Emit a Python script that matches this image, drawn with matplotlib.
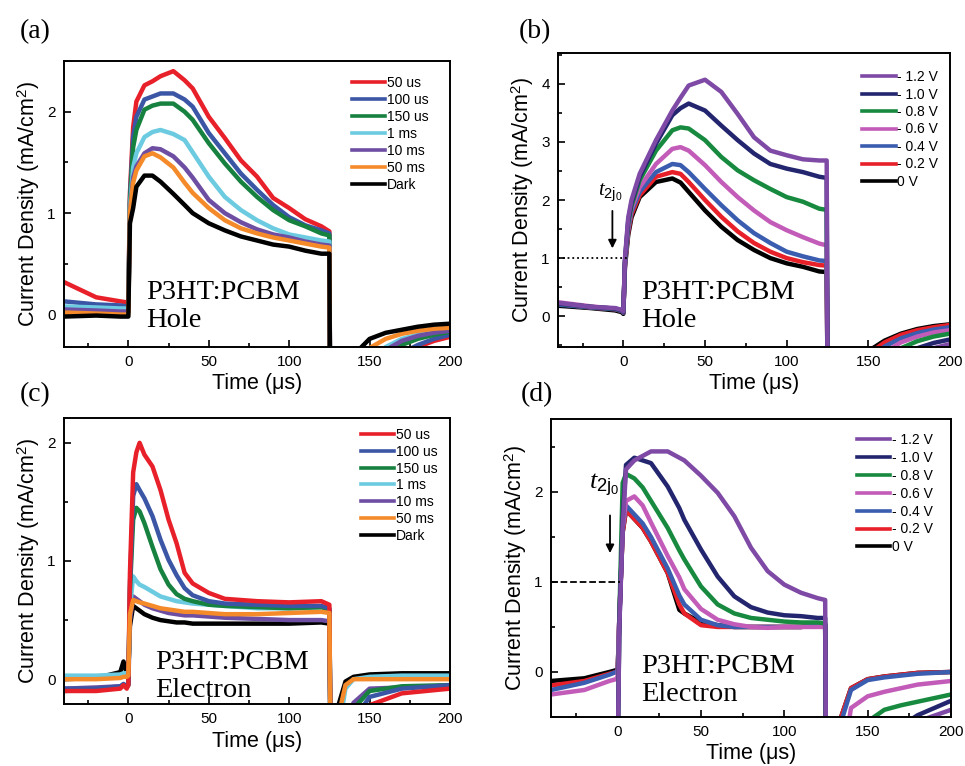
"""Transient photocurrent traces of P3HT:PCBM devices (hole / electron), four panels."""

import matplotlib

matplotlib.use("Agg")

import matplotlib.pyplot as plt
from matplotlib.ticker import MultipleLocator

plt.rcParams["font.family"] = ["Liberation Sans", "DejaVu Sans"]
plt.rcParams["mathtext.fontset"] = "custom"
plt.rcParams["mathtext.rm"] = "Liberation Sans"
plt.rcParams["mathtext.it"] = "Liberation Serif:italic"

# ---- panel (a): hole, delay time series ----
DELAY_LABELS = ["50 us", "100 us", "150 us", "1 ms", "10 ms", "50 ms", "Dark"]
DELAY_COLORS = ["#e8202a", "#3a56a5", "#17813f", "#6ccbe0", "#6d4ea2", "#f58a2a", "#000000"]

t_a = [-40, -20, -5, -1, 0, 1, 3, 5, 10, 15, 20, 28, 35, 40, 50, 60, 70, 80, 90, 100,
       110, 120, 125, 125.5, 140, 150, 160, 170, 180, 190, 200]
a_50us = [0.32, 0.17, 0.13, 0.12, 0.12, 1.2, 1.85, 2.1, 2.26, 2.3, 2.35, 2.4, 2.31, 2.23, 1.95, 1.74,
          1.52, 1.36, 1.15, 1.05, 0.94, 0.87, 0.82, -1, -0.9, -0.7, -0.55, -0.42, -0.32, -0.26, -0.22]
a_100us = [0.13, 0.1, 0.09, 0.08, 0.08, 1.15, 1.75, 1.95, 2.12, 2.15, 2.18, 2.18, 2.12, 2.05, 1.79, 1.59,
           1.39, 1.23, 1.08, 0.96, 0.88, 0.83, 0.8, -1, -0.85, -0.65, -0.5, -0.38, -0.3, -0.24, -0.2]
a_150us = [0.07, 0.06, 0.05, 0.05, 0.04, 1.1, 1.65, 1.82, 2.02, 2.06, 2.08, 2.08, 2.0, 1.92, 1.69, 1.49,
           1.31, 1.16, 1.03, 0.93, 0.87, 0.8, 0.78, -1, -0.75, -0.55, -0.4, -0.3, -0.24, -0.2, -0.17]
a_1ms = [0.08, 0.07, 0.06, 0.06, 0.05, 1.05, 1.45, 1.59, 1.75, 1.8, 1.82, 1.78, 1.72, 1.6, 1.36, 1.16,
         1.03, 0.93, 0.85, 0.79, 0.76, 0.73, 0.72, -1, -0.7, -0.45, -0.32, -0.24, -0.2, -0.17, -0.15]
a_10ms = [0.05, 0.04, 0.03, 0.03, 0.02, 1.0, 1.35, 1.46, 1.59, 1.64, 1.63, 1.56, 1.45, 1.35, 1.13, 1.0,
          0.91, 0.84, 0.79, 0.76, 0.72, 0.69, 0.68, -1, -0.75, -0.5, -0.35, -0.26, -0.21, -0.18, -0.16]
a_50ms = [0.02, 0.01, 0.0, 0.0, 0.0, 1.0, 1.3, 1.42, 1.56, 1.59, 1.55, 1.45, 1.3, 1.2, 1.05, 0.93,
          0.85, 0.8, 0.76, 0.73, 0.7, 0.67, 0.66, -1, -0.55, -0.33, -0.24, -0.19, -0.16, -0.14, -0.13]
a_dark = [-0.02, -0.01, -0.02, -0.02, -0.02, 0.9, 1.05, 1.26, 1.37, 1.37, 1.31, 1.19, 1.08, 1.0, 0.9, 0.83,
          0.77, 0.73, 0.69, 0.67, 0.63, 0.6, 0.6, -1, -0.4, -0.24, -0.18, -0.15, -0.12, -0.1, -0.09]

# ---- panel (b): hole, bias series ----
BIAS_LABELS = ["- 1.2 V", "- 1.0 V", "- 0.8 V", "- 0.6 V", "- 0.4 V", "- 0.2 V", "0 V"]
BIAS_COLORS = ["#7f4aa6", "#23266f", "#178a3f", "#c25cb8", "#3a5db0", "#e8202a", "#000000"]

t_b = [-40, -20, -5, -1, 0, 1, 3, 5, 10, 20, 30, 35, 40, 50, 60, 70, 80, 90, 100, 110,
       120, 124.5, 125, 150, 160, 170, 180, 190, 200]
b_12 = [0.23, 0.16, 0.14, 0.11, 0.08, 1.0, 1.7, 2.0, 2.45, 3.03, 3.54, 3.76, 3.97, 4.07, 3.86,
        3.48, 3.08, 2.85, 2.77, 2.7, 2.68, 2.68, -1, -1.2, -1.0, -0.8, -0.65, -0.55, -0.48]
b_10 = [0.22, 0.16, 0.13, 0.1, 0.07, 0.95, 1.65, 1.95, 2.4, 2.97, 3.46, 3.58, 3.66, 3.54, 3.28,
        3.03, 2.8, 2.62, 2.54, 2.48, 2.4, 2.38, -1, -1.1, -0.85, -0.68, -0.55, -0.46, -0.4]
b_08 = [0.22, 0.16, 0.13, 0.1, 0.07, 0.95, 1.6, 1.9, 2.34, 2.85, 3.2, 3.25, 3.23, 3.03, 2.74,
        2.51, 2.34, 2.19, 2.05, 1.97, 1.85, 1.83, -1, -0.95, -0.72, -0.55, -0.43, -0.35, -0.3]
b_06 = [0.24, 0.17, 0.13, 0.1, 0.07, 0.9, 1.55, 1.85, 2.22, 2.62, 2.88, 2.91, 2.85, 2.6, 2.31,
        2.05, 1.82, 1.62, 1.48, 1.36, 1.25, 1.22, -1, -0.85, -0.62, -0.45, -0.35, -0.28, -0.24]
b_04 = [0.2, 0.15, 0.12, 0.09, 0.06, 0.9, 1.5, 1.8, 2.14, 2.48, 2.62, 2.6, 2.48, 2.19, 1.91,
        1.65, 1.43, 1.26, 1.11, 1.03, 0.96, 0.95, -1, -0.75, -0.52, -0.38, -0.29, -0.23, -0.19]
b_02 = [0.21, 0.15, 0.12, 0.09, 0.06, 0.9, 1.45, 1.75, 2.08, 2.4, 2.48, 2.45, 2.31, 2.0, 1.71,
        1.46, 1.26, 1.11, 1.0, 0.93, 0.88, 0.87, -1, -0.65, -0.45, -0.32, -0.24, -0.19, -0.15]
b_00 = [0.18, 0.14, 0.1, 0.07, 0.04, 0.85, 1.4, 1.7, 2.05, 2.31, 2.37, 2.3, 2.14, 1.82, 1.54,
        1.31, 1.14, 1.0, 0.91, 0.85, 0.77, 0.76, -1, -0.6, -0.42, -0.3, -0.22, -0.17, -0.14]

# ---- panel (c): electron, delay time series ----
t_c = [-40, -20, -5, -3, -1, 0, 1, 3, 5, 7, 10, 15, 20, 25, 30, 35, 40, 50, 60, 80,
       100, 120, 125, 126, 130, 135, 140, 150, 170, 200]
c_50us = [-0.1, -0.1, -0.08, -0.05, -0.08, -0.05, 0.9, 1.75, 1.92, 2.0, 1.9, 1.8, 1.6, 1.35, 1.15,
          0.9, 0.81, 0.73, 0.68, 0.66, 0.65, 0.66, 0.63, -1, -1, -0.8, -0.5, -0.22, -0.12, -0.08]
c_100us = [-0.08, -0.08, -0.06, -0.04, -0.06, -0.04, 0.8, 1.55, 1.65, 1.6, 1.53, 1.38, 1.18, 1.01, 0.88,
           0.77, 0.71, 0.66, 0.64, 0.63, 0.62, 0.62, 0.6, -1, -1, -0.6, -0.35, -0.15, -0.08, -0.05]
c_150us = [-0.1, -0.09, -0.07, -0.05, -0.07, -0.05, 0.75, 1.35, 1.45, 1.42, 1.32, 1.12, 0.93, 0.8, 0.72,
           0.68, 0.66, 0.63, 0.62, 0.61, 0.6, 0.61, 0.59, -1, -1, -0.5, -0.25, -0.1, -0.06, -0.05]
c_1ms = [0.03, 0.03, 0.04, 0.05, 0.05, 0.06, 0.6, 0.87, 0.83, 0.8, 0.78, 0.74, 0.7, 0.68, 0.66,
         0.65, 0.64, 0.63, 0.62, 0.6, 0.6, 0.6, 0.58, -1, -0.5, -0.08, 0.0, 0.02, 0.03, 0.03]
c_10ms = [-0.08, -0.07, -0.06, -0.05, -0.06, -0.05, 0.5, 0.7, 0.68, 0.66, 0.63, 0.6, 0.58, 0.56, 0.55,
          0.54, 0.54, 0.53, 0.52, 0.51, 0.5, 0.5, 0.49, -1, -1, -0.4, -0.2, -0.08, -0.07, -0.06]
c_50ms = [0.0, 0.0, 0.01, 0.02, 0.02, 0.03, 0.55, 0.67, 0.66, 0.65, 0.64, 0.62, 0.6, 0.59, 0.58,
          0.57, 0.57, 0.56, 0.55, 0.55, 0.56, 0.57, 0.56, -1, -0.35, -0.05, 0.0, 0.0, 0.0, 0.0]
c_dark = [0.0, 0.01, 0.06, 0.15, 0.05, 0.05, 0.45, 0.62, 0.6, 0.58, 0.55, 0.52, 0.5, 0.49, 0.48,
          0.48, 0.47, 0.47, 0.47, 0.47, 0.47, 0.48, 0.47, -1, -0.25, -0.02, 0.02, 0.04, 0.05, 0.05]

# ---- panel (d): electron, bias series ----
t_d = [-40, -20, -5, -1, 0, 1, 3, 5, 10, 15, 20, 30, 37, 40, 50, 60, 70, 80, 90, 100,
       110, 120, 124.5, 125, 135, 140, 150, 160, 170, 180, 200]
d_12 = [-1, -1, -1, -1, -1, 0.5, 1.6, 2.25, 2.35, 2.4, 2.45, 2.45, 2.38, 2.35, 2.18, 1.99,
        1.73, 1.38, 1.12, 0.97, 0.88, 0.82, 0.8, -1, -1, -1, -1, -0.9, -0.7, -0.55, -0.42]
d_10 = [-1, -1, -1, -1, -1, 0.5, 1.7, 2.3, 2.38, 2.35, 2.32, 2.06, 1.82, 1.69, 1.36, 1.06,
        0.84, 0.72, 0.66, 0.63, 0.62, 0.6, 0.6, -1, -1, -1, -1, -0.8, -0.6, -0.48, -0.32]
d_08 = [-1, -1, -1, -1, -1, 0.6, 2.1, 2.2, 2.15, 2.05, 1.9, 1.6, 1.35, 1.25, 0.95, 0.75,
        0.65, 0.6, 0.58, 0.56, 0.55, 0.55, 0.54, -1, -1, -1, -0.55, -0.42, -0.37, -0.33, -0.25]
d_06 = [-0.25, -0.2, -0.1, -0.08, -0.05, 0.6, 1.6, 1.9, 1.95, 1.85, 1.66, 1.29, 1.05, 0.92, 0.7, 0.58,
        0.53, 0.5, 0.49, 0.5, 0.5, 0.5, 0.5, -1, -1, -0.4, -0.27, -0.22, -0.18, -0.14, -0.1]
d_04 = [-0.2, -0.12, -0.03, 0.0, 0.0, 0.6, 1.6, 1.85, 1.75, 1.65, 1.5, 1.15, 0.85, 0.75, 0.58, 0.52,
        0.5, 0.5, 0.5, 0.5, 0.5, 0.52, 0.52, -1, -0.5, -0.2, -0.09, -0.06, -0.04, -0.02, 0.0]
d_02 = [-0.15, -0.1, -0.02, 0.0, 0.0, 0.6, 1.55, 1.8, 1.7, 1.6, 1.45, 1.1, 0.75, 0.65, 0.52, 0.5,
        0.5, 0.5, 0.5, 0.5, 0.5, 0.52, 0.52, -1, -0.45, -0.18, -0.08, -0.05, -0.03, -0.01, 0.0]
d_00 = [-0.1, -0.07, 0.0, 0.02, 0.0, 0.6, 1.55, 1.8, 1.7, 1.6, 1.45, 1.1, 0.69, 0.65, 0.55, 0.52,
        0.5, 0.5, 0.5, 0.5, 0.5, 0.52, 0.52, -1, -0.45, -0.18, -0.08, -0.05, -0.03, -0.01, 0.0]

FIG_W, FIG_H = 965, 766


def make_axes(fig, left, top, right, bottom):
    return fig.add_axes([left / FIG_W, 1 - bottom / FIG_H, (right - left) / FIG_W, (bottom - top) / FIG_H])


def draw_panel(ax, t, series, labels, colors, order, ylim, yticks, sample, sample_xy,
               legend_xy, spacing):
    lines = {}
    for i in order:
        (ln,) = ax.plot(t, series[i], color=colors[i], lw=3.2, solid_joinstyle="round")
        lines[i] = ln
    ax.set_xlim(-40, 200)
    ax.set_ylim(*ylim)
    ax.set_xticks([0, 50, 100, 150, 200])
    ax.set_yticks(yticks)
    ax.xaxis.set_minor_locator(MultipleLocator(25))
    ax.yaxis.set_minor_locator(MultipleLocator(0.5))
    ax.tick_params(which="both", direction="in", top=False, right=False, width=1.2, labelsize=11)
    ax.tick_params(which="major", length=5, pad=6)
    ax.tick_params(which="minor", length=3)
    for sp in ax.spines.values():
        sp.set_linewidth(1.4)
    ax.set_xlabel("Time (μs)", fontsize=15.5, labelpad=3)
    ax.set_ylabel("Current Density (mA/cm$^{2}$)", fontsize=15.5, labelpad=4)
    ax.text(sample_xy[0], sample_xy[1], sample, transform=ax.transAxes, family="Liberation Serif",
            fontsize=20.5, va="baseline", ha="left", linespacing=1.15)
    leg = ax.legend([lines[i] for i in range(len(labels))], labels, loc="upper left",
                    bbox_to_anchor=legend_xy, frameon=False, fontsize=10, handlelength=2.4,
                    handletextpad=0.1, borderpad=0, borderaxespad=0, labelspacing=spacing)
    for h in leg.get_lines():
        h.set_linewidth(2.6)


def main():
    fig = plt.figure(figsize=(FIG_W / 100, FIG_H / 100), dpi=100)

    ax_a = make_axes(fig, 64, 61, 450, 347)
    draw_panel(ax_a, t_a, [a_50us, a_100us, a_150us, a_1ms, a_10ms, a_50ms, a_dark],
               DELAY_LABELS, DELAY_COLORS, [0, 1, 2, 3, 4, 5, 6], (-0.32, 2.5), [0, 1, 2],
               "P3HT:PCBM\nHole", (0.212, 0.07), (0.746, 0.948), 0.22)

    ax_b = make_axes(fig, 558, 53, 950, 347)
    draw_panel(ax_b, t_b, [b_12, b_10, b_08, b_06, b_04, b_02, b_00],
               BIAS_LABELS, BIAS_COLORS, [6, 5, 4, 3, 2, 1, 0], (-0.53, 4.53), [0, 1, 2, 3, 4],
               "P3HT:PCBM\nHole", (0.212, 0.068), (0.776, 0.942), 0.25)
    ax_b.plot([-40, 3], [1, 1], color="black", ls=":", lw=1.3)
    ax_b.annotate("", xy=(-6.7, 1.12), xytext=(-6.7, 1.86),
                  arrowprops=dict(arrowstyle="-|>", color="black", lw=1.3, mutation_scale=12))
    ax_b.text(-8, 2.12, r"$t_{\mathrm{2j_0}}$", fontsize=15, ha="center", va="center")

    ax_c = make_axes(fig, 64, 418, 450, 704)
    draw_panel(ax_c, t_c, [c_50us, c_100us, c_150us, c_1ms, c_10ms, c_50ms, c_dark],
               DELAY_LABELS, DELAY_COLORS, [6, 4, 3, 2, 1, 0, 5], (-0.21, 2.21), [0, 1, 2],
               "P3HT:PCBM\nElectron", (0.236, 0.024), (0.769, 0.965), 0.2)

    ax_d = make_axes(fig, 551, 419, 951, 717)
    draw_panel(ax_d, t_d, [d_12, d_10, d_08, d_06, d_04, d_02, d_00],
               BIAS_LABELS, BIAS_COLORS, [6, 5, 4, 3, 2, 1, 0], (-0.5, 2.81), [0, 1, 2],
               "P3HT:PCBM\nElectron", (0.225, 0.054), (0.765, 0.953), 0.28)
    ax_d.plot([-40, 1.5], [1, 1], color="black", ls="--", lw=1.3)
    ax_d.annotate("", xy=(-4.6, 1.29), xytext=(-4.6, 1.77),
                  arrowprops=dict(arrowstyle="-|>", color="black", lw=1.3, mutation_scale=12))
    ax_d.text(-8, 2.07, r"$t_{\mathrm{2j_0}}$", fontsize=19, ha="center", va="center")

    for label, x, y in [("(a)", 35, 32), ("(b)", 535, 32), ("(c)", 35, 395), ("(d)", 537, 395)]:
        fig.text(x / FIG_W, 1 - y / FIG_H, label, family="Liberation Serif", fontsize=20,
                 ha="center", va="center")

    fig.savefig("out.png", dpi=100)
    plt.close(fig)


if __name__ == "__main__":
    main()
